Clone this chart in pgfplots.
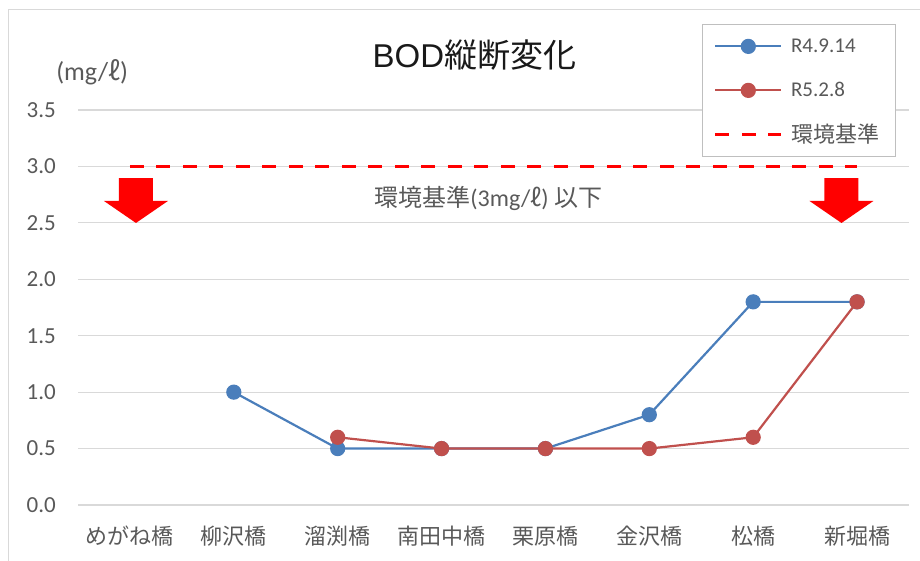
\documentclass[border=0pt]{standalone}
\usepackage{fontspec}
\setmainfont{Carlito}
\newfontfamily\cjk{Noto Sans CJK JP}
\newfontfamily\arial{Liberation Sans}
\usepackage{pgfplots}
\pgfplotsset{compat=1.18}

\definecolor{serA}{HTML}{4A7EBB}
\definecolor{serB}{HTML}{C0504D}
\definecolor{txtgray}{HTML}{595959}
\definecolor{gridgray}{HTML}{D9D9D9}
\newcommand\fs[1]{\fontsize{#1}{#1}\selectfont}
\newcommand\litre{{\cjk ℓ}}
% block arrow pointing down, centred on x = #1
\newcommand\bigarrow[1]{%
  \fill[red] ([xshift=-17bp]axis cs:#1,2.897) -- ([xshift=17bp]axis cs:#1,2.897)
    -- ([xshift=17bp]axis cs:#1,2.694) -- ([xshift=32bp]axis cs:#1,2.694)
    -- (axis cs:#1,2.499) -- ([xshift=-32bp]axis cs:#1,2.694)
    -- ([xshift=-17bp]axis cs:#1,2.694) -- cycle;}

\begin{document}
\begin{tikzpicture}
\path[use as bounding box] (0,0) rectangle (920bp,561bp);
\draw[gridgray, line width=1bp] (8bp,0) -- (8bp,551bp) -- (920bp,551bp);
\begin{axis}[
  at={(78bp,56bp)}, anchor=south west,
  scale only axis, width=831bp, height=395bp,
  xmin=-0.5, xmax=7.5, ymin=0, ymax=3.5,
  clip=false,
  axis line style={draw=none},
  major tick length=0pt,
  xtick={0,...,7},
  xticklabels={めがね橋,柳沢橋,溜渕橋,南田中橋,栗原橋,金沢橋,松橋,新堀橋},
  xticklabel style={font=\cjk\fs{22bp}, text=txtgray, anchor=north, inner sep=0pt, yshift=-21bp},
  ytick={0,0.5,...,3.5},
  yticklabels={0.0,0.5,1.0,1.5,2.0,2.5,3.0,3.5},
  yticklabel style={font=\fs{23bp}, text=txtgray, anchor=east, inner sep=0pt, xshift=-22bp},
  ymajorgrids,
  grid style={gridgray, line width=1.2bp},
  legend cell align=left,
  legend image code/.code={\draw[mark repeat=2,mark phase=2] plot coordinates {(0bp,0bp)(33bp,0bp)(66bp,0bp)};},
  legend style={at={(0.751,1.218)}, anchor=north west, draw=gray!50, line width=1bp, fill=white,
    inner xsep=11bp, inner ysep=0bp, row sep=0pt,
    nodes={text width=85bp, minimum height=44bp, inner xsep=8bp, inner ysep=0bp, text=txtgray, font=\fs{21bp}}},
]
\addplot[serA, line width=2.2bp, mark=*, mark size=6.5bp, mark options={fill=serA, solid}]
  coordinates {(1,1.0)(2,0.5)(3,0.5)(4,0.5)(5,0.8)(6,1.8)(7,1.8)};
\addlegendentry{R4.9.14}
\addplot[serB, line width=2.2bp, mark=*, mark size=6.5bp, mark options={fill=serB, solid}]
  coordinates {(2,0.6)(3,0.5)(4,0.5)(5,0.5)(6,0.6)(7,1.8)};
\addlegendentry{R5.2.8}
\addplot[red, line width=3.5bp, dash pattern=on 14bp off 12.5bp]
  coordinates {(0,3)(1,3)(2,3)(3,3)(4,3)(5,3)(6,3)(7,3)};
\addlegendentry{\cjk\fs{22bp}環境基準}

\bigarrow{0.058}
\bigarrow{6.85}
\node[font=\fs{33bp}, text=black!90] at (rel axis cs:0.477,1.139) {{\arial BOD}{\cjk 縦断変化}};
\node[font=\fs{26bp}, text=txtgray] at (rel axis cs:0.017,1.096) {(mg/\litre)};
\node[font=\cjk\fs{24bp}, text=txtgray] at (axis cs:3.45,2.72) {環境基準{\rmfamily (3mg/}\litre{\rmfamily )} 以下};
\end{axis}
\end{tikzpicture}
\end{document}
